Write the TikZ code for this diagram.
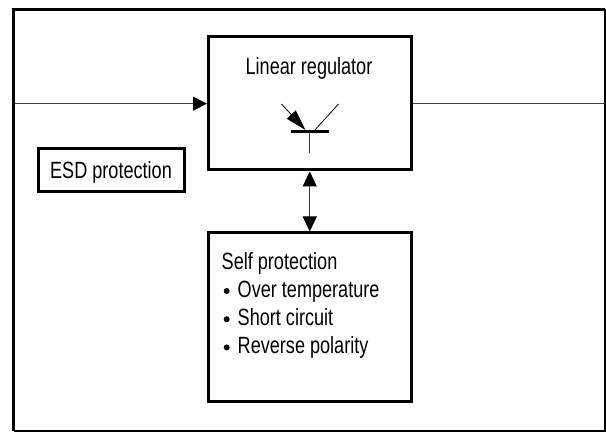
\documentclass[tikz,border=0pt]{standalone}
\usepackage{fontspec}
\setmainfont[FakeStretch=0.77]{Liberation Sans}
\usetikzlibrary{arrows.meta}
\definecolor{wire}{gray}{0.25}
\tikzset{
  blockbox/.style={draw=black,line width=3pt,fill=white,inner sep=0pt,minimum width=#1},
  lbl/.style={inner sep=0pt,font=\fontsize{23.5}{28}\selectfont},
  wireline/.style={draw=wire,line width=1pt},
  headed/.style={-{Triangle[length=14pt,width=14pt,black]}},
  dbl/.style={{Triangle[length=15pt,width=14pt,black]}-{Triangle[length=15pt,width=14pt,black]}}
}
\begin{document}
\begin{tikzpicture}[x=1pt,y=-1pt]
\useasboundingbox (0,0) rectangle (606,433);
\fill[white] (0,0) rectangle (606,433);
\coordinate (tl) at (13.5,9.5);
\coordinate (tr) at (605.2,9.5);
\coordinate (bl) at (13.5,431.2);
\coordinate (br) at (605.2,431.2);
\draw[line width=1.5pt] (tr) -- (br) -- (bl);
\draw[line width=3pt,line cap=butt] (bl) -- (tl) -- (tr);
\node[blockbox=202.5pt,minimum height=133pt] (reg) at (309.75,103.5) {};
\node[blockbox=202.5pt,minimum height=168pt] (self) at (309.75,317) {};
\node[blockbox=145.5pt,minimum height=43pt] (esd) at (111.25,170.5) {};
\node[lbl,anchor=base] (regt) at (309,75) {Linear regulator};
\node[lbl,anchor=base] (esdt) at (111,178.5) {ESD protection};
\node[lbl,anchor=base west] (s0) at (221.5,269.5) {Self protection};
\node[lbl,anchor=base west] (s1) at (237.5,297.5) {Over temperature};
\node[lbl,anchor=base west] (s2) at (237.5,325.5) {Short circuit};
\node[lbl,anchor=base west] (s3) at (237.5,353.5) {Reverse polarity};
\foreach \n in {0,1,2}
  \fill (226.7,{291+28.2*\n}) circle (3pt);
\coordinate (in) at (15,103.7);
\coordinate (out) at (604.5,103.7);
\draw[wireline,headed] (in) -- (reg.west |- in);
\draw[wireline] (reg.east |- out) -- (out);
\draw[wireline,dbl] (reg.south) -- (self.north);
% transistor
\coordinate (bara) at (291,131.7);
\coordinate (barb) at (329,131.7);
\coordinate (stem) at (309.7,153);
\coordinate (emit) at (281.5,104);
\coordinate (emitj) at (305.5,130);
\coordinate (coll) at (338.5,104);
\coordinate (collj) at (314,131);
\draw[line width=3pt] (bara) -- (barb);
\draw[wireline] (stem) -- (stem |- bara);
\draw[black,line width=.8pt,-{Triangle[length=21pt,width=12pt,black]}] (emit) -- (emitj);
\draw[black,line width=.8pt] (coll) -- (collj);
\end{tikzpicture}
\end{document}
